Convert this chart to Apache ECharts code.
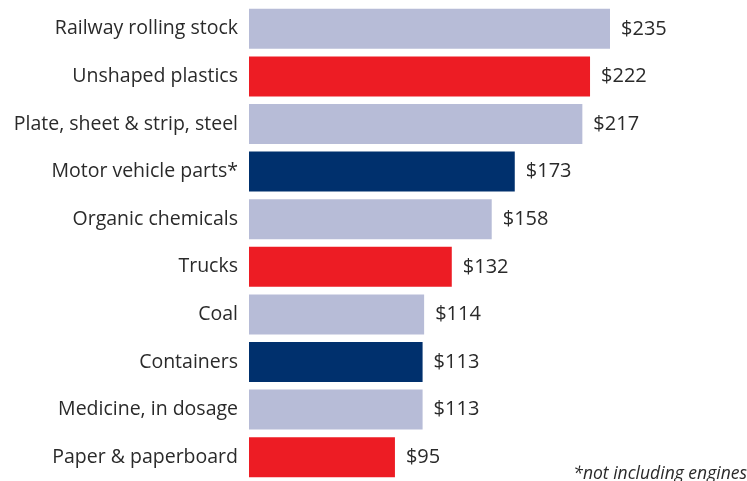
<!DOCTYPE html>
<html><head><meta charset="utf-8">
<script src="https://cdn.jsdelivr.net/npm/echarts@6/dist/echarts.min.js"></script>
<style>html,body{margin:0;padding:0;background:#fff}#c{width:747px;height:481px}</style>
</head><body><div id="c"></div>
<script>
const categories = ["Railway rolling stock","Unshaped plastics","Plate, sheet & strip, steel","Motor vehicle parts*","Organic chemicals","Trucks","Coal","Containers","Medicine, in dosage","Paper & paperboard"];
const values = [235,222,217,173,158,132,114,113,113,95];
const colorKeys = ["lav","red","lav","navy","lav","red","lav","navy","lav","red"];
const palette = {lav:"#B7BCD7", red:"#ED1C24", navy:"#00306D"};
const footnote = "*not including engines";

const chart = echarts.init(document.getElementById('c'));
chart.setOption({
  animation:false,
  grid:{left:249, top:5, width:1.5362*300, height:481, containLabel:false},
  xAxis:{type:'value', min:0, max:300, show:false},
  yAxis:{type:'category', data:categories, inverse:true,
    axisLine:{show:false}, axisTick:{show:false},
    axisLabel:{margin:11, color:'#2a2a2a', fontSize:19.5, fontFamily:'Open Sans'}},
  series:[{type:'bar', barWidth:40,
    data: values.map((v,i)=>({value:v, itemStyle:{color:palette[colorKeys[i]]}})),
    label:{show:true, position:'right', distance:11, color:'#2a2a2a', fontSize:20, fontFamily:'Open Sans', formatter:p=>'$'+p.value}
  }],
  graphic:[{type:'text', right:0, bottom:-2, style:{text:footnote, fill:'#2a2a2a', font:'italic 17.5px "Open Sans"'}}]
});
</script></body></html>
